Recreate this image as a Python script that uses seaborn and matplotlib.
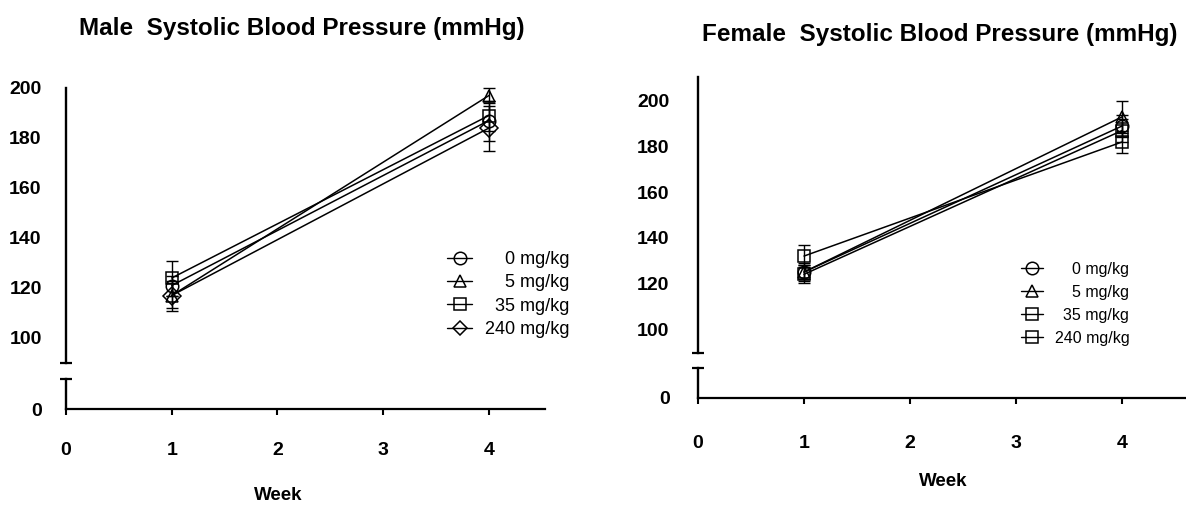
import pandas as pd
import numpy as np
import matplotlib
matplotlib.use("Agg")
import matplotlib.pyplot as plt
import seaborn as sns
from matplotlib.lines import Line2D

# datos (mmHg, media +/- error)
weeks = [1, 4]
doses = ["0 mg/kg", "5 mg/kg", "35 mg/kg", "240 mg/kg"]

male_w1 = [121, 117, 124, 117]
male_w4 = [187, 197, 189, 184]
male_err_w1 = [4, 5, 7, 6]
male_err_w4 = [8, 3, 6, 9]

female_w1 = [125, 125, 124, 132]
female_w4 = [189, 193, 187, 182]
female_err_w1 = [3, 4, 4, 5]
female_err_w4 = [5, 7, 5, 5]

male_markers = {"0 mg/kg": "o", "5 mg/kg": "^", "35 mg/kg": "s", "240 mg/kg": "D"}
female_markers = {"0 mg/kg": "o", "5 mg/kg": "^", "35 mg/kg": "s", "240 mg/kg": "s"}

upper_ticks = [100, 120, 140, 160, 180, 200]
week_ticks = [0, 1, 2, 3, 4]

sns.set_theme(style="white")
plt.rcParams["font.family"] = ["Liberation Sans", "DejaVu Sans"]
plt.rcParams["text.color"] = "black"
plt.rcParams["xtick.color"] = "black"
plt.rcParams["ytick.color"] = "black"
plt.rcParams["axes.labelcolor"] = "black"

W, H = 1186, 508
fig = plt.figure(figsize=(W / 100, H / 100), dpi=100)


def px(x0, y_top, x1, y_bot):
    return [x0 / W, 1 - y_bot / H, (x1 - x0) / W, (y_bot - y_top) / H]


def to_df(w1, w4):
    rows = []
    for i, d in enumerate(doses):
        rows.append({"week": weeks[0], "sbp": w1[i], "dose": d})
        rows.append({"week": weeks[1], "sbp": w4[i], "dose": d})
    return pd.DataFrame(rows)


def panel(box_up, box_lo, xmax, ylim_up, ylim_lo, w1, w4, e1, e4, markers,
          title, title_xy, week_xy, leg_xy, leg_fs, leg_sp, xpad, ypad):
    ax = fig.add_axes(px(*box_up))
    axl = fig.add_axes(px(*box_lo))

    df = to_df(w1, w4)
    sns.lineplot(data=df, x="week", y="sbp", style="dose", markers=markers,
                 dashes=False, color="black", linewidth=1.1, markersize=9,
                 ax=ax, legend=False)
    for ln in ax.lines:
        ln.set_markerfacecolor("none")
        ln.set_markeredgecolor("black")
        ln.set_markeredgewidth(1.1)
        ln.set_clip_on(False)

    for i in range(len(doses)):
        ax.errorbar(weeks, [w1[i], w4[i]], yerr=[e1[i], e4[i]], fmt="none",
                    ecolor="black", elinewidth=1.0, capsize=4.5, capthick=1.0,
                    clip_on=False)

    for a in (ax, axl):
        a.set_xlim(0, xmax)
        a.set_facecolor("none")
        for s in ["top", "right"]:
            a.spines[s].set_visible(False)
        a.spines["left"].set_linewidth(1.7)
        a.spines["left"].set_color("black")
        a.set_xlabel("")
        a.set_ylabel("")
        a.tick_params(axis="y", direction="out", length=4.5, width=1.5,
                      color="black", pad=ypad)

    ax.set_ylim(*ylim_up)
    ax.set_yticks(upper_ticks)
    ax.set_yticklabels([str(v) for v in upper_ticks], fontweight="bold",
                       fontsize=14)
    ax.spines["bottom"].set_visible(False)
    ax.set_xticks([])
    # tapas del eje cortado
    ax.plot([0], [0], marker="_", ms=9, mew=1.6, color="black",
            transform=ax.transAxes, clip_on=False)

    axl.set_ylim(*ylim_lo)
    axl.set_yticks([0])
    axl.set_yticklabels(["0"], fontweight="bold", fontsize=14)
    axl.spines["bottom"].set_linewidth(1.6)
    axl.spines["bottom"].set_color("black")
    axl.set_xticks(week_ticks)
    axl.set_xticklabels([str(v) for v in week_ticks], fontweight="bold",
                        fontsize=14)
    axl.tick_params(axis="x", direction="out", length=4.5, width=1.5,
                    color="black", pad=xpad, bottom=True)
    axl.plot([0], [1], marker="_", ms=9, mew=1.6, color="black",
             transform=axl.transAxes, clip_on=False)

    fig.text(title_xy[0] / W, 1 - title_xy[1] / H, title, ha="center",
             va="center", fontsize=17.5, fontweight="bold")
    fig.text(week_xy[0] / W, 1 - week_xy[1] / H, "Week", ha="center",
             va="center", fontsize=13.5, fontweight="bold")

    handles = [Line2D([], [], color="black", lw=1.0, marker=markers[d],
                      ms=9 if markers[d] != "D" else 7.5, mfc="none",
                      mec="black", mew=1.1) for d in doses]
    leg = fig.legend(handles, doses, loc="upper left",
                     bbox_to_anchor=(leg_xy[0] / W, 1 - leg_xy[1] / H),
                     frameon=False, fontsize=leg_fs, borderpad=0,
                     borderaxespad=0, handlelength=1.4, handletextpad=0.7,
                     labelspacing=leg_sp)
    return leg


leg1 = panel((66, 88, 545, 363), (66, 379, 545, 409), 4.53, (90, 200), (0, 12),
             male_w1, male_w4, male_err_w1, male_err_w4, male_markers,
             "Male  Systolic Blood Pressure (mmHg)", (302, 29), (278, 495),
             (447, 251), 13, 0.35, 19, 13)
leg2 = panel((698, 77, 1186, 353), (698, 368, 1186, 398), 4.604, (89.5, 210.5),
             (0, 13), female_w1, female_w4, female_err_w1, female_err_w4,
             female_markers, "Female  Systolic Blood Pressure (mmHg)",
             (940, 35), (943, 482), (1021, 262), 11.5, 0.5, 22, 16)

# alinear a la derecha el texto de las leyendas
fig.canvas.draw()
r = fig.canvas.get_renderer()
for leg in (leg1, leg2):
    widths = [t.get_window_extent(r).width for t in leg.get_texts()]
    w = max(widths)
    for t, wi in zip(leg.get_texts(), widths):
        t.set_position((w - wi, 0))

fig.savefig("out.png", dpi=100)
